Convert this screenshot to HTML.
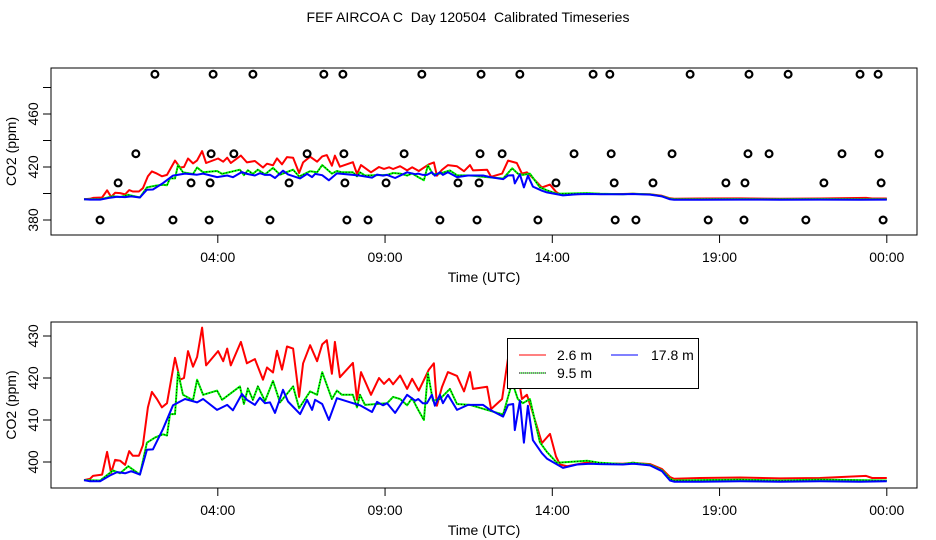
<!DOCTYPE html>
<html><head><meta charset="utf-8"><style>
html,body{margin:0;padding:0;background:#fff;}
svg{display:block;font-family:"Liberation Sans",sans-serif;}
</style></head><body>
<svg id="chart" width="936" height="540" viewBox="0 0 936 540" xmlns="http://www.w3.org/2000/svg">
<text x="468" y="22" font-size="14" text-anchor="middle" xml:space="preserve" style="white-space:pre">FEF AIRCOA C  Day 120504  Calibrated Timeseries</text>
</svg>
<script>
// time in hours since 00:00 UTC
const redTimes=[0,.18,.27,.54,.69,.81,.93,1.08,1.23,1.35,1.46,1.64,1.76,1.91,2.03,2.18,2.33,2.48,2.72,2.87,2.99,3.11,3.26,3.38,3.53,3.65,4.01,4.16,4.28,4.39,4.69,4.87,5.11,5.35,5.47,5.65,5.77,5.92,6.07,6.25,6.43,6.55,6.76,6.97,7.12,7.26,7.41,7.50,7.65,8.04,8.16,8.28,8.58,8.82,8.97,9.12,9.24,9.45,9.66,9.81,10.01,10.31,10.46,10.55,10.70,10.88,11.15,11.36,11.54,11.63,12.05,12.17,12.50,12.68,12.94,13.09,13.24,13.39,13.69,13.93,14.11,14.23,14.44,15.13,15.43,16.11,16.41,16.92,17.28,17.52,17.64,18.42,19.61,20.81,22.0,23.38,23.56,24];
const redValues=[395.7,396,396.7,397,402.4,397.4,400.5,400.3,399.3,402.6,401.5,401.5,404,413,416.7,415,413,414,424.8,419.6,420,426.4,422.7,425,432,423,426.4,424,427,423,428.6,423.5,424.5,419.6,422.5,421.3,426.5,422,427.5,427,415.5,423.5,427.8,424,428,429,421,428.6,420.2,423.6,414.8,421.4,416,420,418.6,419.8,418.5,420.6,417.4,419.8,417,422,423.5,413.4,417.8,421.4,420.5,416.8,421.4,417.4,417.9,412.6,415,424.8,423,415,416,412.4,404.5,406.7,401.3,399.4,399,400,399.7,399.6,399.8,399.5,398.3,396.4,396,396.2,396.3,396.1,396.2,396.7,396.2,396.2];
const greenTimes=[0,.48,.87,1.08,1.32,1.67,1.88,2.12,2.36,2.48,2.57,2.72,2.81,2.96,3.26,3.38,3.56,3.98,4.13,4.66,4.78,4.90,5.05,5.20,5.41,5.65,5.86,6.25,6.43,6.61,6.76,6.97,7.12,7.41,7.56,7.71,8.04,8.16,8.25,8.40,9.06,9.24,9.45,9.66,9.81,9.99,10.16,10.28,10.43,10.64,10.94,11.15,11.54,12.05,12.53,12.80,12.97,13.12,13.33,13.63,13.84,14.14,15.04,15.43,16.11,16.41,16.92,17.28,17.52,17.64,18.42,19.61,20.81,22.0,23.2,24];
const greenValues=[395.7,395.6,398,397.3,399,397,404.6,405.8,406.6,406.3,411.4,411.4,421.4,416,414.7,419.6,416,417,414.8,418,413.8,417.5,414.8,418,414.5,419.3,414.2,418,412.8,415,416.8,416,421.4,415,417,416,416,413,416,413.6,414,415.5,415,413.5,415.2,412.4,410,421.2,414.6,415,417.4,413.8,413.6,412.4,411.3,419,415,414,415,404.7,402.4,399.8,400.3,399.8,399.5,399.8,399.3,398,396,395.6,395.7,395.8,395.6,395.8,395.7,395.6];
const blueTimes=[0,.18,.48,.78,.99,1.23,1.41,1.67,1.88,2.06,2.36,2.66,3.02,3.38,3.56,3.98,4.28,4.45,4.72,4.87,5.11,5.26,5.41,5.56,5.71,5.95,6.10,6.46,6.67,6.82,6.91,7.12,7.32,7.56,8.04,8.25,8.61,8.76,8.94,9.06,9.30,9.66,9.90,9.99,10.13,10.25,10.40,10.49,10.64,10.73,10.88,11.15,11.48,11.93,12.14,12.53,12.68,12.83,12.88,13.03,13.15,13.27,13.42,13.69,13.84,14.32,14.74,15.13,15.43,16.11,16.41,16.92,17.28,17.52,17.64,18.42,19.61,20.81,22.0,23.2,24];
const blueValues=[395.7,395.4,395.4,396.8,397.6,397.3,397.8,397,402.9,403,407.8,413.5,415,414.2,415,412.4,413.6,412.3,416.2,414.8,413.6,415.3,414,414.2,411.7,417.2,414.4,411.4,414.8,412.4,414.8,413.8,410,415.2,414,413.5,411.9,414.3,413.5,414,411.7,416,414.6,415,414,414,416,413.4,416,414,416,412.4,413.6,413.6,412.4,410.8,413.6,413.8,407.6,414.6,404.6,413.4,405.2,402.1,400.8,398.6,399.4,399.6,399.5,399.4,399.6,399.2,397.8,395.6,395.3,395.3,395.4,395.3,395.4,395.3,395.4];
const circleTimes=[2.12,3.86,5.05,7.17,7.74,10.10,11.87,13.03,15.22,15.72,18.12,19.88,21.05,23.20,23.74,
1.55,3.80,4.48,6.67,7.77,9.57,11.84,12.50,14.65,15.76,17.58,19.85,20.48,22.66,23.77,
1.02,3.20,3.77,6.13,7.80,9.03,11.18,11.81,14.11,15.85,17.01,19.19,19.76,22.12,23.83,
.48,2.66,3.74,5.56,7.86,8.49,10.64,11.75,13.57,15.88,16.50,18.66,19.73,21.58,23.89];
const circleValues=[490,490,490,490,490,490,490,490,490,490,490,490,490,490,490,
430,430,430,430,430,430,430,430,430,430,430,430,430,430,430,
408,408,408,408,408,408,408,408,408,408,408,408,408,408,408,
380,380,380,380,380,380,380,380,380,380,380,380,380,380,380];
const xTickHours=[4,9,14,19,24];
const xTickLabels=["04:00","09:00","14:00","19:00","00:00"];
const topTicks=[380,400,420,440,460,480];
const topTickLabels=["380","","420","","460",""];
const botTicks=[400,410,420,430];
const botTickLabels=["400","410","420","430"];

const NS="http://www.w3.org/2000/svg";
const svg=document.getElementById('chart');
function mk(tag,attrs,parent){const e=document.createElementNS(NS,tag);for(const k in attrs)e.setAttribute(k,attrs[k]);(parent||svg).appendChild(e);return e;}
const xScale=h=>84+h*33.45;
const panels=[
 {name:'top',top:68,bottom:235,y:v=>220-(v-380)*1.325,ticks:topTicks,labels:topTickLabels,circles:true},
 {name:'bottom',top:322,bottom:488,y:v=>462-(v-400)*4.2,ticks:botTicks,labels:botTickLabels,circles:false}
];
const L=51,R=917;
panels.forEach(p=>{
 const g=mk('g',{});
 
 
 const cid='clip-'+p.name;
 const cp=mk('clipPath',{id:cid},g);mk('rect',{x:L,y:p.top,width:R-L,height:p.bottom-p.top},cp);
 const dg=mk('g',{'clip-path':'url(#'+cid+')'},g);
 function line(ts,vs,color,nm,dash){
   let d=ts.map((t,i)=>(i?'L':'M')+xScale(t).toFixed(1)+' '+p.y(vs[i]).toFixed(1)).join(' ');
   const pl=mk('path',{d:d,fill:'none',stroke:color,'stroke-width':2,'stroke-linejoin':'round'},dg);
   
   
   if(dash){const pd=mk('path',{d:d,fill:'none',stroke:'#000','stroke-width':1,'stroke-dasharray':'1 2'},dg);
     
     }
 }
 line(redTimes,redValues,'#ff0000','2.6m');
 line(greenTimes,greenValues,'#00ff00','9.5m',true);
 line(blueTimes,blueValues,'#0000ff','17.8m');
 if(p.circles){
   circleTimes.forEach((t,i)=>{
     const c=mk('circle',{cx:xScale(t),cy:p.y(circleValues[i]),r:3.4,fill:'none',stroke:'#000','stroke-width':2.2},g);
     
     
   });
 }
 const box=mk('rect',{x:L,y:p.top,width:R-L,height:p.bottom-p.top,fill:'none',stroke:'#000','stroke-width':1},g);
 
 
 xTickHours.forEach((h,i)=>{
   const x=xScale(h);
   mk('line',{x1:x,x2:x,y1:p.bottom,y2:p.bottom+8,stroke:'#000'},g);
   const t=mk('text',{x:x,y:p.bottom+27,'font-size':14,'text-anchor':'middle'},g);
   t.textContent=xTickLabels[i];
   
   
 });
 p.ticks.forEach((v,i)=>{
   const y=p.y(v);
   mk('line',{x1:L-8,x2:L,y1:y,y2:y,stroke:'#000'},g);
   if(p.labels[i]){
     const t=mk('text',{x:0,y:0,'font-size':14,'text-anchor':'middle',transform:'translate(38,'+y+') rotate(-90)'},g);
     t.textContent=p.labels[i];
     
     
   }
 });
 const yl=mk('text',{x:0,y:0,'font-size':14,'text-anchor':'middle',transform:'translate(16,'+((p.top+p.bottom)/2)+') rotate(-90)'},g);
 yl.textContent='CO2 (ppm)';
 
 
 const xl=mk('text',{x:484,y:p.bottom+47,'font-size':14,'text-anchor':'middle'},g);
 xl.textContent='Time (UTC)';
 
 
});
// legend
const lg=mk('g',{});


mk('rect',{x:507.5,y:338.5,width:191,height:50,fill:'#fff',stroke:'#000'},lg);
const entries=[['2.6 m','#ff0000',519,557,355,false],['17.8 m','#0000ff',611,651,355,false],['9.5 m','#00ff00',519,557,373,true]];
entries.forEach(e=>{
 const eg=mk('g',{},lg);
 
 
 mk('line',{x1:e[2],x2:e[2]+27,y1:e[4],y2:e[4],stroke:e[1],'stroke-width':1},eg);
 if(e[5])mk('line',{x1:e[2],x2:e[2]+27,y1:e[4],y2:e[4],stroke:'#000','stroke-dasharray':'1 1'},eg);
 const t=mk('text',{x:e[3],y:e[4]+5,'font-size':14},eg);
 t.textContent=e[0];
});
</script>
</body></html>
